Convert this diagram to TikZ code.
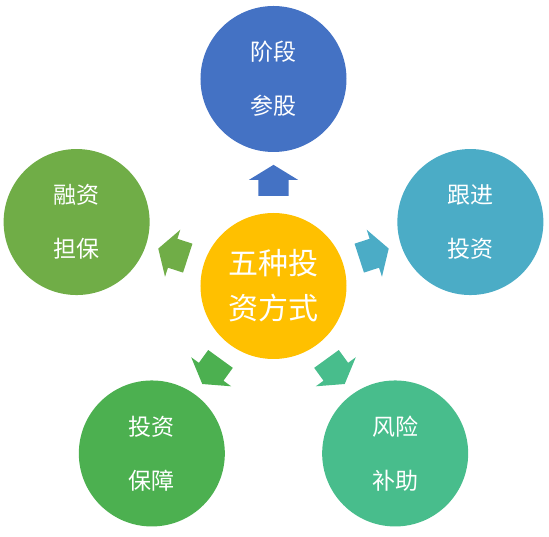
\documentclass[tikz,border=0pt]{standalone}
\usepackage{fontspec}
\newfontfamily\cjk{Noto Sans CJK SC}
\usetikzlibrary{shapes.arrows}
\definecolor{way_gold}{RGB}{255,192,0}
\definecolor{way_blue}{RGB}{68,114,196}
\definecolor{way_teal}{RGB}{75,172,198}
\definecolor{way_olive}{RGB}{112,173,71}
\definecolor{way_green}{RGB}{76,176,80}
\definecolor{way_mint}{RGB}{72,189,140}
\begin{document}
\begin{tikzpicture}[x=1pt, y=1pt,
          hub/.style={circle, fill=way_gold, minimum size=146pt, inner sep=0pt,
                      text=white, align=center, font=\cjk\fontsize{30}{45}\selectfont},
          leaf/.style={circle, minimum size=146pt, inner sep=0pt,
                       text=white, align=center, font=\cjk\fontsize{23}{54}\selectfont},
          pt/.style={single arrow, minimum height=31pt, inner xsep=0pt, inner ysep=15pt,
                     single arrow head extend=9.5pt, single arrow tip angle=117}]
        \useasboundingbox (-273.5,-251) rectangle (275.5,286);
        \node[hub] (ways) at (0,0) {五种投\\资方式};
        \node[leaf, fill=way_blue]  (stage)   at (90:207)  {阶段\\参股};
        \node[leaf, fill=way_teal]  (follow)  at (18:207)  {跟进\\投资};
        \node[leaf, fill=way_olive] (finance) at (162:207) {融资\\担保};
        \node[leaf, fill=way_green] (guard)   at (234:207) {投资\\保障};
        \node[leaf, fill=way_mint]  (risk)    at (306:207) {风险\\补助};
        \node[pt, fill=way_blue,  rotate=90]  (toStage)   at (90:101)  {};
        \node[pt, fill=way_teal,  rotate=18]  (toFollow)  at (18:101)  {};
        \node[pt, fill=way_olive, rotate=162] (toFinance) at (162:101) {};
        \node[pt, fill=way_green, rotate=234] (toGuard)   at (234:101) {};
        \node[pt, fill=way_mint,  rotate=306] (toRisk)    at (306:101) {};
      \end{tikzpicture}
\end{document}
